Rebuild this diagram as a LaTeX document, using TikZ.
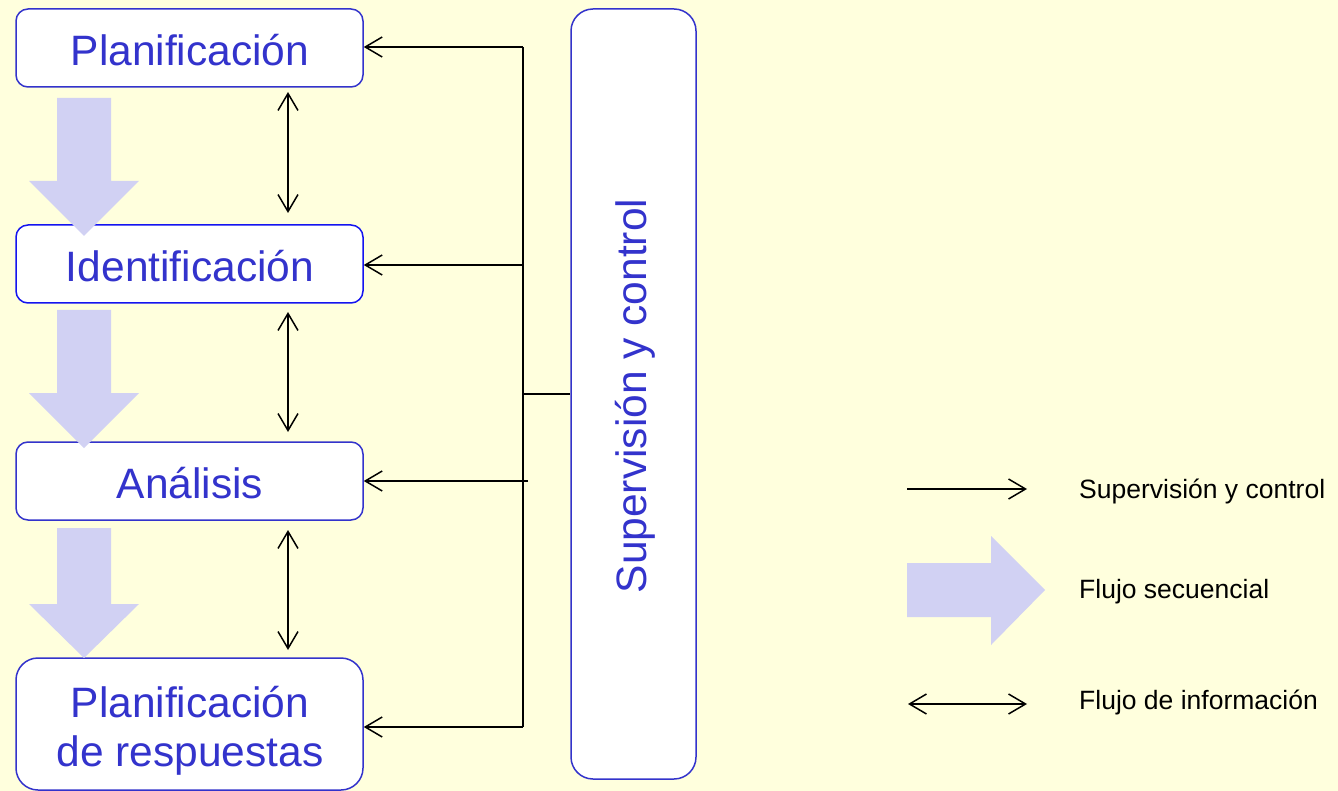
\documentclass[tikz,border=0pt]{standalone}
\usepackage{fontspec}
\setmainfont{Liberation Sans}
\usetikzlibrary{arrows.meta}
\definecolor{bg}{RGB}{255,255,221}
\definecolor{boxblue}{RGB}{51,51,204}
\definecolor{boxblue2}{RGB}{20,20,240}
\definecolor{txtblue}{RGB}{51,51,204}
\definecolor{lav}{RGB}{209,209,243}
\begin{document}
\begin{tikzpicture}[x=1pt,y=-1pt,
  stagebox/.style={draw=boxblue, line width=1.5pt, fill=white, rounded corners=12pt,
    minimum width=347pt, minimum height=78pt, inner sep=0pt, text=txtblue,
    font=\fontsize{42.5}{49}\selectfont, align=center},
  stagetext/.style={inner sep=0pt, text=txtblue, font=\fontsize{42.5}{49}\selectfont, align=center},
  ctrl/.style={line width=1.5pt, -{Straight Barb[length=17pt,width=20pt]}},
  info/.style={line width=1.5pt, {Straight Barb[length=17pt,width=20pt]}-{Straight Barb[length=17pt,width=20pt]}},
  bigarrow/.style={fill=lav, draw=none},
  legtext/.style={font=\fontsize{26.5}{30}\selectfont, anchor=west, inner sep=0pt}]

\useasboundingbox (0,0) rectangle (1338,791);
\fill[bg] (0,0) rectangle (1338,791);

% stage boxes
\node[stagebox] (plan) at (189.5,48) {};
\node[stagetext] (plantext) at (190,50) {Planificación};
\node[stagebox, draw=boxblue2] (ident) at (189.5,264) {};
\node[stagetext] (identtext) at (190,266) {Identificación};
\node[stagebox] (anal) at (189.5,481) {};
\node[stagetext] (analtext) at (190,483) {Análisis};
\node[stagebox, minimum height=132pt, rounded corners=22pt] (resp) at (189.5,724) {};
\node[stagetext] (resptext) at (190,731) {Planificación\\de respuestas};

% supervision box
\node[draw=boxblue, line width=1.5pt, fill=white, rounded corners=22pt,
  minimum width=125pt, minimum height=770pt, inner sep=0pt] (sup) at (633.5,394) {};
\node[rotate=90, text=txtblue, font=\fontsize{42.5}{49}\selectfont, inner sep=0pt] (suptext) at (635,396) {Supervisión y control};

% sequential flow arrows
\fill[bigarrow] (57,98) -- (111,98) -- (111,181) -- (139,181) -- (84,236) -- (29,181) -- (57,181) -- cycle;
\fill[bigarrow] (57,310) -- (111,310) -- (111,393) -- (139,393) -- (84,448) -- (29,393) -- (57,393) -- cycle;
\fill[bigarrow] (57,528) -- (111,528) -- (111,604) -- (139,604) -- (84,658) -- (29,604) -- (57,604) -- cycle;

% information flow
\coordinate (i1a) at (288,92);  \coordinate (i1b) at (288,213);
\coordinate (i2a) at (288,312); \coordinate (i2b) at (288,432);
\coordinate (i3a) at (288,530); \coordinate (i3b) at (288,650);
\draw[info] (i1a) -- (i1b);
\draw[info] (i2a) -- (i2b);
\draw[info] (i3a) -- (i3b);

% supervision trunk
\coordinate (t1) at (523,47);
\coordinate (t2) at (523,265);
\coordinate (t3) at (528,481);
\coordinate (t4) at (523,727);
\coordinate (tj) at (523,394);
\draw[line width=1.5pt] (t1) -- (t4);
\draw[line width=1.5pt] (tj) -- (tj -| sup.west);
\draw[ctrl] (t1) -- (t1 -| plan.east);
\draw[ctrl] (t2) -- (t2 -| ident.east);
\draw[ctrl] (t3) -- (t3 -| anal.east);
\draw[ctrl] (t4) -- (t4 -| resp.east);

% legend
\coordinate (l1a) at (907,489); \coordinate (l1b) at (1027,489);
\draw[ctrl] (l1a) -- (l1b);
\node[legtext] (leg1) at (1079,491) {Supervisión y control};
\fill[bigarrow] (907,563) -- (991,563) -- (991,536) -- (1045,590) -- (991,645) -- (991,617) -- (907,617) -- cycle;
\node[legtext] (leg2) at (1079,592) {Flujo secuencial};
\coordinate (l3a) at (908,704); \coordinate (l3b) at (1027,704);
\draw[info] (l3a) -- (l3b);
\node[legtext] (leg3) at (1079,702) {Flujo de información};
\end{tikzpicture}
\end{document}
